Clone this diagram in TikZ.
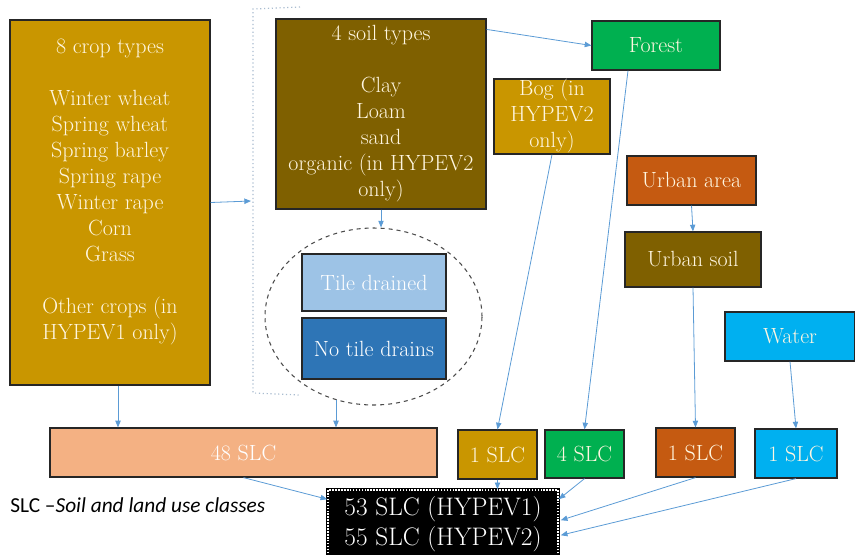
\documentclass[tikz,border=0pt]{standalone}
\usepackage{fontspec}
\newfontfamily\legendfont{Carlito}
\usetikzlibrary{arrows.meta,shapes.geometric,calc}

\definecolor{gold}{HTML}{C99600}
\definecolor{soilbrown}{HTML}{7F6000}
\definecolor{forestgreen}{HTML}{00B050}
\definecolor{urbanorange}{HTML}{C55A11}
\definecolor{waterblue}{HTML}{00B0F0}
\definecolor{tilelight}{HTML}{9DC3E6}
\definecolor{tiledark}{HTML}{2E75B6}
\definecolor{salmon}{HTML}{F4B183}
\definecolor{linkblue}{HTML}{5B9BD5}
\definecolor{bracketgray}{HTML}{A9BCD0}
\definecolor{cream}{HTML}{FFF6E0}

\def\u{0.75pt}

\tikzset{
  box/.style={draw=black!85, line width=0.9pt, align=center, text=cream,
    font=\rmfamily\fontsize{16.5}{19.5}\selectfont, inner sep=0pt},
  link/.style={draw=linkblue, line width=0.6pt,
    -{Triangle[length=5pt,width=4pt]}},
}

\begin{document}
\begin{tikzpicture}[x=0.75pt, y=-0.75pt]
\useasboundingbox (0,0) rectangle (855,554);

% crop types
\node[box, fill=gold, minimum width=200*\u, minimum height=365*\u] (crop) at (110,202.5)
  {8 crop types\\[19.5pt]Winter wheat\\Spring wheat\\Spring barley\\Spring rape\\Winter rape\\Corn\\Grass\\[19.5pt]Other crops (in\\HYPEV1 only)\\\mbox{}};

% soil types
\node[box, fill=soilbrown, minimum width=210*\u, minimum height=190*\u] (soil) at (381,114)
  {4 soil types\\[19.5pt]Clay\\Loam\\sand\\organic (in HYPEV2\\only)};

% drainage
\node[draw=black!70, dashed, line width=0.8pt, ellipse, minimum width=217*\u, minimum height=177*\u] (drain) at (373.5,316.5) {};
\node[box, fill=tilelight, text=white, minimum width=144*\u, minimum height=57*\u] (tile) at (374,282.5) {Tile drained};
\node[box, fill=tiledark, text=white, minimum width=144*\u, minimum height=61*\u] (notile) at (374,348.5) {No tile drains};

% dotted bracket around soil and drainage
\coordinate (brtop) at (300,7);
\coordinate (brbot) at (300,395);
\coordinate (brin) at (251,201);
\draw[bracketgray, dotted, line width=0.9pt] (brtop) -- (253,9) -- (253,393) -- (brbot);

% other land classes
\node[box, fill=forestgreen, minimum width=128*\u, minimum height=49*\u] (forest) at (656,45.5) {Forest};
\node[box, fill=gold, minimum width=116*\u, minimum height=75*\u] (bog) at (552,116.5) {Bog (in\\HYPEV2\\only)};
\node[box, fill=urbanorange, minimum width=129*\u, minimum height=49*\u] (urban) at (691.5,180.5) {Urban area};
\node[box, fill=soilbrown, minimum width=136*\u, minimum height=55*\u] (usoil) at (693,259.5) {Urban soil};
\node[box, fill=waterblue, minimum width=130*\u, minimum height=49*\u] (water) at (790,336.5) {Water};

% SLC counts
\node[box, fill=salmon, text=white, minimum width=387*\u, minimum height=49*\u] (slc48) at (243.5,452.5) {48 SLC};
\node[box, fill=gold, minimum width=79*\u, minimum height=49*\u] (slcbog) at (497.5,454.5) {1 SLC};
\node[box, fill=forestgreen, minimum width=79*\u, minimum height=48*\u] (slcforest) at (584.5,454) {4 SLC};
\node[box, fill=urbanorange, minimum width=79*\u, minimum height=49*\u] (slcurban) at (695.5,452.5) {1 SLC};
\node[box, fill=waterblue, minimum width=82*\u, minimum height=49*\u] (slcwater) at (796,453.5) {1 SLC};

% total
\node[fill=black, draw=white, densely dotted, line width=1.2pt,
  preaction={draw=black, solid, line width=2.4pt},
  text=white, align=center, inner sep=0pt,
  font=\rmfamily\fontsize{19}{22.5}\selectfont,
  minimum width=230*\u, minimum height=68*\u] (total) at (443,524) {53 SLC (HYPEV1)\\55 SLC (HYPEV2)};

% legend
\node[anchor=west, inner sep=0pt, font=\legendfont\fontsize{16}{19}\selectfont] (legend) at (10,505)
  {SLC \textendash\textit{Soil and land use classes}};

% connectors
\draw[link] (crop.east) -- (brin);
\draw[link] (soil.south) -- (soil.south |- drain.north);
\draw[link] ([yshift=-11*\u]soil.north east) -- (forest.west);
\draw[link] ($(drain.center)+(-37.5,83)$) coordinate (dout) -- (dout |- slc48.north);
\draw[link] ([xshift=8*\u]crop.south) coordinate (cout) -- (cout |- slc48.north);
\draw[link] (urban.south) -- (usoil.north);
\draw[link] (bog.south) -- (slcbog.north);
\draw[link] ([xshift=-28*\u]forest.south) -- (slcforest.north);
\draw[link] (usoil.south) -- (slcurban.north);
\draw[link] (water.south) -- (slcwater.north);
\draw[link] (slc48.south) -- ([yshift=-10*\u]total.north west);
\draw[link] (slcbog.south) -- (slcbog.south |- total.north);
\draw[link] (slcforest.south) -- ([yshift=-10*\u]total.north east);
\draw[link] (slcurban.south) -- ([shift={(2*\u,-31*\u)}]total.north east);
\draw[link] (slcwater.south) -- ([shift={(2*\u,-46*\u)}]total.north east);
\end{tikzpicture}
\end{document}
